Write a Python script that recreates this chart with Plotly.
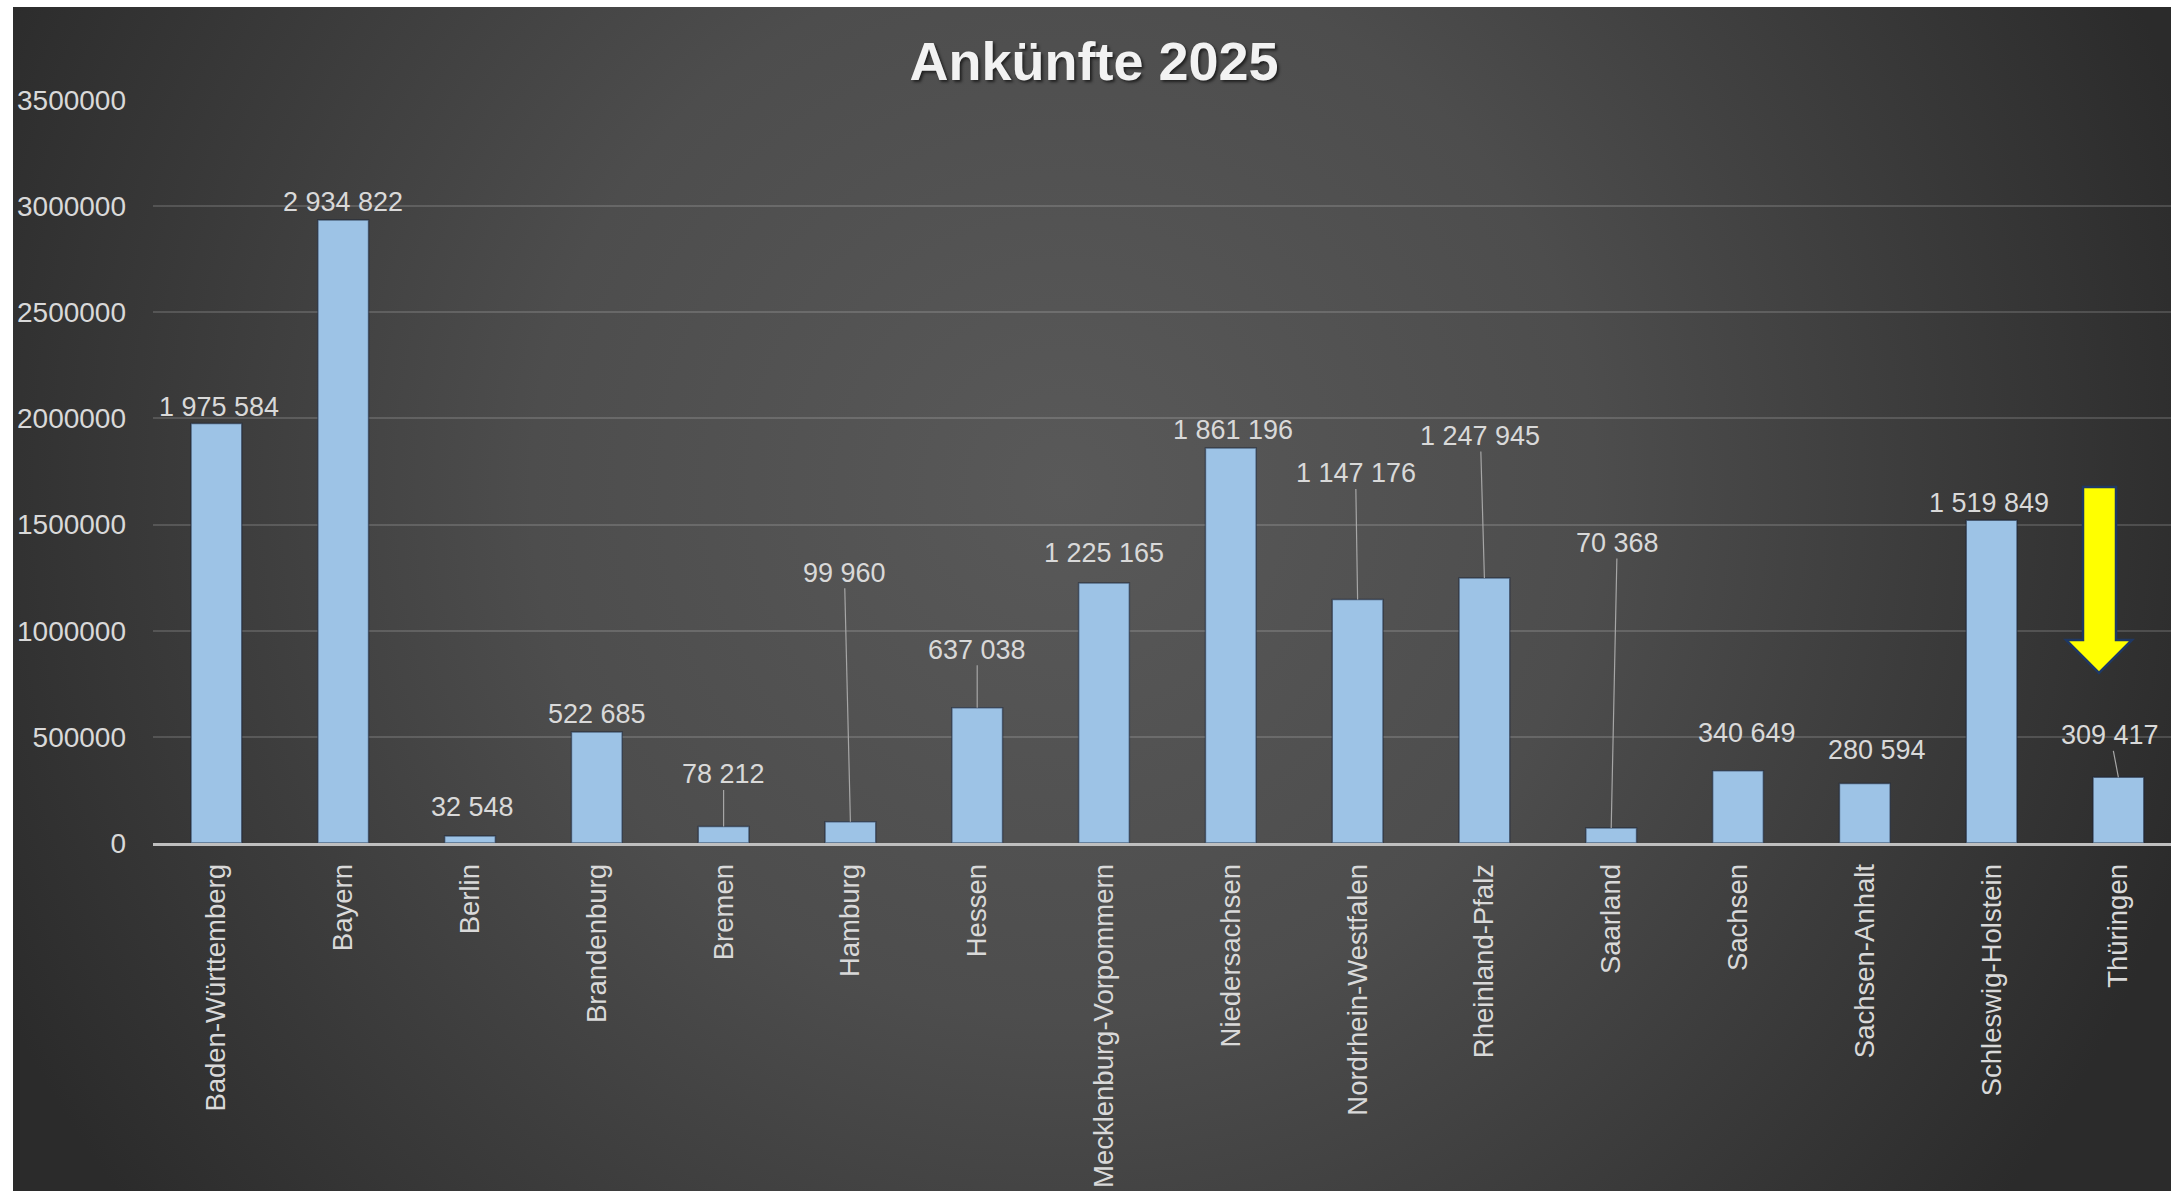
import base64
import plotly.graph_objects as go

# ---------------- data ----------------
categories = ["Baden-Württemberg", "Bayern", "Berlin", "Brandenburg", "Bremen", "Hamburg",
              "Hessen", "Mecklenburg-Vorpommern", "Niedersachsen", "Nordrhein-Westfalen",
              "Rheinland-Pfalz", "Saarland", "Sachsen", "Sachsen-Anhalt",
              "Schleswig-Holstein", "Thüringen"]
values = [1975584, 2934822, 32548, 522685, 78212, 99960, 637038, 1225165, 1861196,
          1147176, 1247945, 70368, 340649, 280594, 1519849, 309417]
y_ticks = [0, 500000, 1000000, 1500000, 2000000, 2500000, 3000000, 3500000]

# label placement (pixel offset of label centre from bar top) and leader-line flag
label_dx = [3, 0, 2, 0, 0, -6, 0, 0, 2, -2, -4, 6, 9, 12, -3, -8]
label_dy = [-17, -18, -29, -18, -52, -249, -58, -30, -18, -126, -142, -285, -38, -33, -17, -42]
leader = [False, False, False, False, True, True, True, False, False, True, True, True,
          False, False, False, True]

W, H = 2171, 1191
ML, MT, MB, MR = 153, 100, 348, 0
PW, PH = W - ML - MR, H - MT - MB
FONT = "Liberation Sans, Arial, sans-serif"


def fmt(v):
    return f"{v:,}".replace(",", " ")


def px_x(px):
    return (px - ML) / PW


def px_y(py):
    return (H - MB - py) / PH


# background gradient as svg image
svg = f"""<svg xmlns='http://www.w3.org/2000/svg' width='{W-13}' height='{H-7}'>
<defs><radialGradient id='g' gradientUnits='userSpaceOnUse' cx='1050' cy='480' r='1180'>
<stop offset='0' stop-color='#595959'/><stop offset='0.45' stop-color='#4d4d4d'/>
<stop offset='1' stop-color='#2b2b2b'/></radialGradient></defs>
<rect x='0' y='0' width='{W-13}' height='{H-7}' fill='url(#g)'/></svg>"""
bg_src = "data:image/svg+xml;base64," + base64.b64encode(svg.encode()).decode()

fig = go.Figure()
fig.add_trace(go.Bar(
    x=categories, y=values,
    marker=dict(color="#9DC3E6", line=dict(color="rgba(25,35,55,0.55)", width=1.5)),
    hoverinfo="x+y",
))

annotations = []
for c, v, dx, dy, ld in zip(categories, values, label_dx, label_dy, leader):
    common = dict(x=c, y=v, xref="x", yref="y", text=fmt(v),
                  font=dict(family=FONT, size=27, color="#d9d9d9"))
    if ld:
        annotations.append(dict(**common, showarrow=True, arrowhead=0, arrowwidth=1.2,
                                arrowcolor="#a6a6a6", ax=dx, ay=dy, axref="pixel", ayref="pixel",
                                standoff=0, borderpad=0))
    else:
        annotations.append(dict(**common, showarrow=False, xshift=dx, yshift=-dy,
                                xanchor="center", yanchor="middle"))

# yellow block arrow
ax_pts = [(2083, 487), (2116, 487), (2116, 640), (2132, 640), (2099, 673),
          (2066, 640), (2083, 640)]
path = "M " + " L ".join(f"{px_x(x):.5f},{px_y(y):.5f}" for x, y in ax_pts) + " Z"

fig.update_layout(
    width=W, height=H,
    margin=dict(l=ML, r=MR, t=MT, b=MB, autoexpand=False),
    paper_bgcolor="white",
    plot_bgcolor="rgba(0,0,0,0)",
    showlegend=False,
    bargap=0.6,
    title=dict(text="<b>Ankünfte 2025</b>", x=1094 / W, xref="container", xanchor="center",
               y=1 - 61 / H, yref="container", yanchor="middle",
               font=dict(family=FONT, size=54, color="#f2f2f2",
                         shadow="2px 2px 3px rgba(0,0,0,0.6)")),
    xaxis=dict(range=[-0.5, -0.5 + PW / 126.8], showgrid=False, showline=True,
               linecolor="#bfbfbf", linewidth=3, tickangle=-90, ticks="",
               ticklabelstandoff=7, automargin=False,
               tickfont=dict(family=FONT, size=27.5, color="#d9d9d9")),
    yaxis=dict(range=[0, 3500000], tickvals=y_ticks, tickformat="d", showgrid=True,
               gridcolor="rgba(255,255,255,0.15)", gridwidth=1.5, zeroline=False,
               showline=False, ticks="", ticklabelstandoff=26, automargin=False,
               tickfont=dict(family=FONT, size=28, color="#d9d9d9")),
    annotations=annotations,
    images=[dict(source=bg_src, xref="paper", yref="paper", x=px_x(13), y=px_y(7),
                 sizex=(W - 13) / PW, sizey=(H - 7) / PH, xanchor="left", yanchor="top",
                 sizing="stretch", layer="below")],
    shapes=[dict(type="path", path=path, xref="paper", yref="paper",
                 fillcolor="#FFFF00", line=dict(color="#1F3864", width=2.5), layer="above")],
)

fig.write_html("out.html", config={"displayModeBar": False},
               post_script="document.body.style.margin='0';document.body.style.overflow='hidden';")
